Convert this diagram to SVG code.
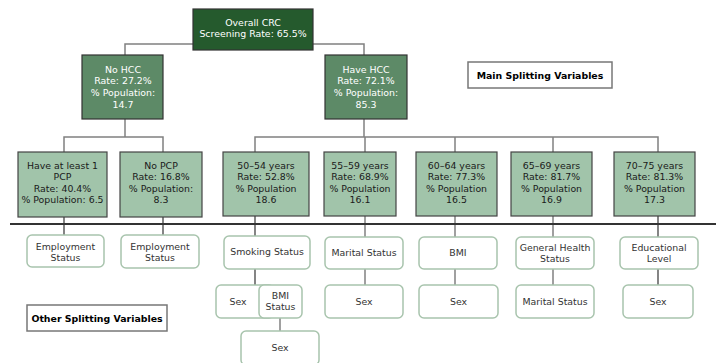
<svg xmlns="http://www.w3.org/2000/svg" width="716" height="363" viewBox="0 0 716 363">
<style>
text{font-family:Verdana,"DejaVu Sans",sans-serif;font-size:9.4px;text-anchor:middle}
.top{fill:#255a2d;stroke:#333;stroke-width:1.2}
.l1{fill:#5d8a67;stroke:#333;stroke-width:1.2}
.l2{fill:#a1c4aa;stroke:#444;stroke-width:1.2}
.leaf{fill:#fff;stroke:#a8c4ad;stroke-width:1.5}
.lab{fill:#fff;stroke:#777;stroke-width:1.5}
.wt{fill:#fff}
.bt{fill:#1a1a1a}
.gt{fill:#333}
.bold{font-weight:bold;fill:#000}
.c1{stroke:#808080;stroke-width:1.5;fill:none}
.c2{stroke:#333;stroke-width:1.2;fill:none}
</style>
<g id="connectors">
<polyline class="c1" points="193,44 125,44 125,55"/>
<polyline class="c1" points="313,44 364,44 364,55"/>
<polyline class="c1" points="125,119 125,137"/>
<polyline class="c1" points="64,152 64,137 163,137 163,152"/>
<polyline class="c1" points="364,119 364,137"/>
<polyline class="c1" points="255,152 255,137 658,137 658,152"/>
<line class="c1" x1="365" y1="137" x2="365" y2="152"/>
<line class="c1" x1="455" y1="137" x2="455" y2="152"/>
<line class="c1" x1="553" y1="137" x2="553" y2="152"/>
<line class="c2" x1="64" y1="217" x2="64" y2="235"/>
<line class="c2" x1="163" y1="217" x2="163" y2="235"/>
<line class="c2" x1="255" y1="216" x2="255" y2="236"/>
<line class="c1" x1="365" y1="216" x2="365" y2="237"/>
<line class="c1" x1="455" y1="216" x2="455" y2="237"/>
<line class="c1" x1="553" y1="216" x2="553" y2="237"/>
<line class="c2" x1="658" y1="216" x2="658" y2="237"/>
<line class="c2" x1="255" y1="269" x2="255" y2="285"/>
<line class="c1" x1="280" y1="318" x2="280" y2="331"/>
<line class="c1" x1="365" y1="269" x2="365" y2="285"/>
<line class="c1" x1="455" y1="269" x2="455" y2="285"/>
<line class="c1" x1="553" y1="269" x2="553" y2="285"/>
<line class="c2" x1="658" y1="269" x2="658" y2="285"/>
<line x1="10" y1="224" x2="716" y2="224" stroke="#333" stroke-width="2"/>
</g>
<g id="root">
<rect class="top" x="193" y="9" width="120" height="41"/>
<text class="wt" x="253" y="25.5">Overall CRC</text>
<text class="wt" x="253" y="37">Screening Rate: 65.5%</text>
</g>
<g id="no-hcc">
<rect class="l1" x="82" y="55" width="81" height="64"/>
<text class="wt" x="123" y="72.5">No HCC</text>
<text class="wt" x="123" y="84">Rate: 27.2%</text>
<text class="wt" x="123" y="96">% Population:</text>
<text class="wt" x="123" y="107.5">14.7</text>
</g>
<g id="have-hcc">
<rect class="l1" x="325" y="55" width="82" height="64"/>
<text class="wt" x="366" y="72.5">Have HCC</text>
<text class="wt" x="366" y="84">Rate: 72.1%</text>
<text class="wt" x="366" y="96">% Population:</text>
<text class="wt" x="366" y="107.5">85.3</text>
</g>
<g id="main-label">
<rect class="lab" x="468" y="62" width="144" height="26"/>
<text class="bold" x="540" y="78.5">Main Splitting Variables</text>
</g>
<g id="pcp">
<rect class="l2" x="18" y="152" width="89" height="65"/>
<text class="bt" x="62.5" y="168.5">Have at least 1</text>
<text class="bt" x="62.5" y="180">PCP</text>
<text class="bt" x="62.5" y="191.5">Rate: 40.4%</text>
<text class="bt" x="62.5" y="203">% Population: 6.5</text>
</g>
<g id="no-pcp">
<rect class="l2" x="120" y="152" width="82" height="65"/>
<text class="bt" x="161" y="168.5">No PCP</text>
<text class="bt" x="161" y="180">Rate: 16.8%</text>
<text class="bt" x="161" y="191.5">% Population:</text>
<text class="bt" x="161" y="203">8.3</text>
</g>
<g id="age-50-54">
<rect class="l2" x="223" y="152" width="86" height="64"/>
<text class="bt" x="266" y="168.5">50–54 years</text>
<text class="bt" x="266" y="180">Rate: 52.8%</text>
<text class="bt" x="266" y="191.5">% Population</text>
<text class="bt" x="266" y="203">18.6</text>
</g>
<g id="age-55-59">
<rect class="l2" x="324" y="152" width="72" height="64"/>
<text class="bt" x="360" y="168.5">55–59 years</text>
<text class="bt" x="360" y="180">Rate: 68.9%</text>
<text class="bt" x="360" y="191.5">% Population</text>
<text class="bt" x="360" y="203">16.1</text>
</g>
<g id="age-60-64">
<rect class="l2" x="416" y="152" width="81" height="64"/>
<text class="bt" x="456.5" y="168.5">60–64 years</text>
<text class="bt" x="456.5" y="180">Rate: 77.3%</text>
<text class="bt" x="456.5" y="191.5">% Population</text>
<text class="bt" x="456.5" y="203">16.5</text>
</g>
<g id="age-65-69">
<rect class="l2" x="511" y="152" width="81" height="64"/>
<text class="bt" x="551.5" y="168.5">65–69 years</text>
<text class="bt" x="551.5" y="180">Rate: 81.7%</text>
<text class="bt" x="551.5" y="191.5">% Population</text>
<text class="bt" x="551.5" y="203">16.9</text>
</g>
<g id="age-70-75">
<rect class="l2" x="614" y="152" width="81" height="64"/>
<text class="bt" x="654.5" y="168.5">70–75 years</text>
<text class="bt" x="654.5" y="180">Rate: 81.3%</text>
<text class="bt" x="654.5" y="191.5">% Population</text>
<text class="bt" x="654.5" y="203">17.3</text>
</g>
<g id="employment-1">
<rect class="leaf" x="27" y="235" width="77" height="32" rx="5"/>
<text class="gt" x="65.5" y="249.5">Employment</text>
<text class="gt" x="65.5" y="261">Status</text>
</g>
<g id="employment-2">
<rect class="leaf" x="121" y="235" width="78" height="33" rx="5"/>
<text class="gt" x="160" y="249.5">Employment</text>
<text class="gt" x="160" y="261">Status</text>
</g>
<g id="smoking">
<rect class="leaf" x="224" y="236" width="86" height="33" rx="5"/>
<text class="gt" x="267" y="255">Smoking Status</text>
</g>
<g id="sex-smoking">
<rect class="leaf" x="216" y="285" width="58" height="33" rx="5"/>
<text class="gt" x="238" y="304.5">Sex</text>
</g>
<g id="bmi-status">
<rect class="leaf" x="259" y="285" width="43" height="33" rx="5"/>
<text class="gt" x="280.5" y="298.5">BMI</text>
<text class="gt" x="280.5" y="310">Status</text>
</g>
<g id="sex-bmi-status">
<rect class="leaf" x="241" y="331" width="78" height="34" rx="5"/>
<text class="gt" x="280" y="350.5">Sex</text>
</g>
<g id="marital-1">
<rect class="leaf" x="325" y="237" width="78" height="32" rx="5"/>
<text class="gt" x="364" y="255.5">Marital Status</text>
</g>
<g id="sex-marital">
<rect class="leaf" x="325" y="285" width="78" height="33" rx="5"/>
<text class="gt" x="364" y="304.5">Sex</text>
</g>
<g id="bmi">
<rect class="leaf" x="419" y="237" width="78" height="32" rx="5"/>
<text class="gt" x="458" y="255.5">BMI</text>
</g>
<g id="sex-bmi">
<rect class="leaf" x="419" y="285" width="79" height="33" rx="5"/>
<text class="gt" x="458.5" y="304.5">Sex</text>
</g>
<g id="general-health">
<rect class="leaf" x="516" y="237" width="78" height="32" rx="5"/>
<text class="gt" x="555" y="250.5">General Health</text>
<text class="gt" x="555" y="262">Status</text>
</g>
<g id="marital-2">
<rect class="leaf" x="516" y="285" width="78" height="33" rx="5"/>
<text class="gt" x="555" y="304.5">Marital Status</text>
</g>
<g id="education">
<rect class="leaf" x="620" y="237" width="78" height="32" rx="5"/>
<text class="gt" x="659" y="250.5">Educational</text>
<text class="gt" x="659" y="262">Level</text>
</g>
<g id="sex-education">
<rect class="leaf" x="623" y="285" width="70" height="33" rx="5"/>
<text class="gt" x="658" y="304.5">Sex</text>
</g>
<g id="other-label">
<rect class="lab" x="27" y="305" width="140" height="26"/>
<text class="bold" x="97" y="321.5">Other Splitting Variables</text>
</g>
</svg>
